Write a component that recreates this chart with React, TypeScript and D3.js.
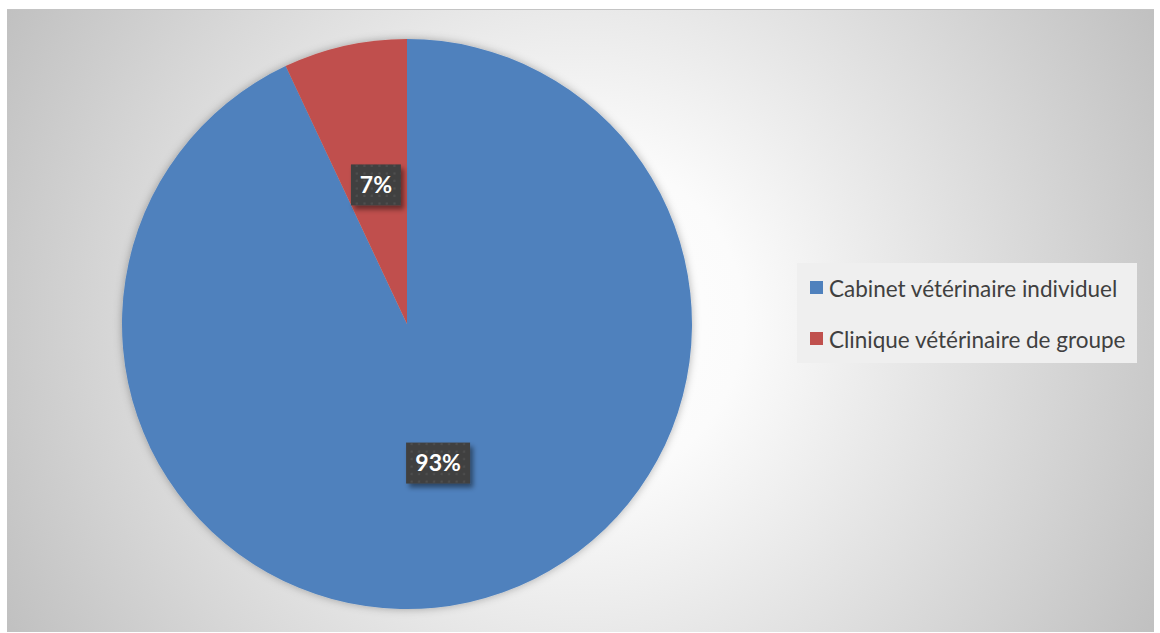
import React, { useEffect } from "react";
import * as d3 from "d3";

const categories = ["Cabinet vétérinaire individuel", "Clinique vétérinaire de groupe"];
const values = [93, 7];
const labels = ["93%", "7%"];
const colors = ["#4f81bd", "#c0504d"];

const W = 1160;
const H = 633;

export default function App() {
  useEffect(() => {
    document.body.style.margin = "0";
  }, []);

  const cx = 407;
  const cy = 324;
  const R = 285;

  const pie = d3.pie<number>().sort(null).value((d) => d)(values);
  const arc = d3.arc<d3.PieArcDatum<number>>().innerRadius(0).outerRadius(R);

  const legendX = 797;
  const legendY = 263;

  return (
    <svg width={W} height={H} style={{ display: "block" }} fontFamily="Lato, 'Open Sans', sans-serif">
      <defs>
        <radialGradient id="bg" gradientUnits="userSpaceOnUse" cx={580} cy={320} r={655}>
          <stop offset="0" stopColor="#ffffff" />
          <stop offset="0.25" stopColor="#fbfbfb" />
          <stop offset="1" stopColor="#c0c0c0" />
        </radialGradient>
        <filter id="pieShadow" x="-10%" y="-10%" width="120%" height="120%">
          <feDropShadow dx="0" dy="0" stdDeviation="4" floodColor="#000" floodOpacity="0.3" />
        </filter>
        <filter id="boxShadow" x="-30%" y="-30%" width="170%" height="170%">
          <feDropShadow dx="3" dy="4" stdDeviation="2.5" floodColor="#000" floodOpacity="0.45" />
        </filter>
        <pattern id="dots" patternUnits="userSpaceOnUse" width="7.5" height="7.5">
          <rect width="7.5" height="7.5" fill="#404040" />
          <rect x="2.5" y="2.5" width="2" height="2" fill="#515151" />
        </pattern>
      </defs>
      <rect x={0} y={0} width={W} height={H} fill="#ffffff" />
      <rect x={7} y={9} width={1147} height={623} fill="url(#bg)" />
      <line x1={7} x2={1154} y1={9.5} y2={9.5} stroke="#c4c4c4" strokeWidth={1} />

      <g transform={`translate(${cx},${cy})`} filter="url(#pieShadow)">
        {pie.map((p, i) => (
          <path key={i} d={arc(p) || ""} fill={colors[i]} />
        ))}
      </g>

      <g transform={`translate(${cx},${cy})`}>
        {pie.map((p, i) => {
          const [x, y] = arc.centroid(p);
          const w = labels[i].length === 2 ? 50 : 64;
          const h = 41;
          return (
            <g key={i} transform={`translate(${x},${y})`}>
              <rect x={-w / 2} y={-h / 2} width={w} height={h} fill="url(#dots)" filter="url(#boxShadow)" />
              <text
                x={0}
                y={0}
                dy="0.36em"
                textAnchor="middle"
                fill="#ffffff"
                fontWeight="bold"
                fontSize={23}
              >
                {labels[i]}
              </text>
            </g>
          );
        })}
      </g>

      <g transform={`translate(${legendX},${legendY})`}>
        <rect x={0} y={0} width={340} height={100} fill="#efefef" />
        {categories.map((c, i) => (
          <g key={i} transform={`translate(0,${i * 51})`}>
            <rect x={13} y={18} width={13} height={13} fill={colors[i]} />
            <text x={32} y={33.5} fontSize={22.5} fill="#404040">
              {c}
            </text>
          </g>
        ))}
      </g>
    </svg>
  );
}
